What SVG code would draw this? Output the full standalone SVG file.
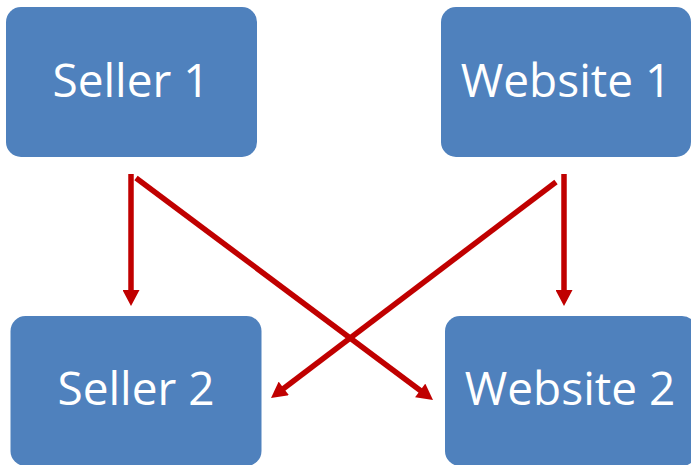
<svg xmlns="http://www.w3.org/2000/svg" width="691" height="465" viewBox="0 0 691 465">
<style>
.box{fill:#4F81BD;}
.lbl{font-family:"Open Sans","Liberation Sans",sans-serif;font-size:46px;fill:#FFFFFF;text-anchor:middle;}
.con{stroke:#C00000;stroke-width:5.5;fill:none;marker-end:url(#ah);}
</style>
<defs>
<marker id="ah" markerUnits="userSpaceOnUse" markerWidth="17" markerHeight="17" viewBox="0 0 16 17" refX="6" refY="8.5" orient="auto">
<path d="M0,0 L16,8.5 L0,17 Z" fill="#C00000"/>
</marker>
</defs>
<g id="seller1"><rect class="box" x="6" y="7" width="251" height="150" rx="15"/><text class="lbl" x="131" y="97">Seller 1</text></g>
<g id="website1"><rect class="box" x="441" y="7" width="250" height="150" rx="15"/><text class="lbl" x="566" y="97">Website 1</text></g>
<g id="seller2"><rect class="box" x="10.5" y="316" width="251" height="150" rx="15"/><text class="lbl" x="136" y="405">Seller 2</text></g>
<g id="website2"><rect class="box" x="445" y="316" width="252" height="150" rx="15"/><text class="lbl" x="570" y="405">Website 2</text></g>
<g id="connectors">
<line class="con" x1="131" y1="174" x2="131" y2="296"/>
<line class="con" x1="136" y1="178" x2="425" y2="394"/>
<line class="con" x1="564" y1="174" x2="564" y2="296"/>
<line class="con" x1="556" y1="182" x2="279" y2="392"/>
</g>
</svg>
